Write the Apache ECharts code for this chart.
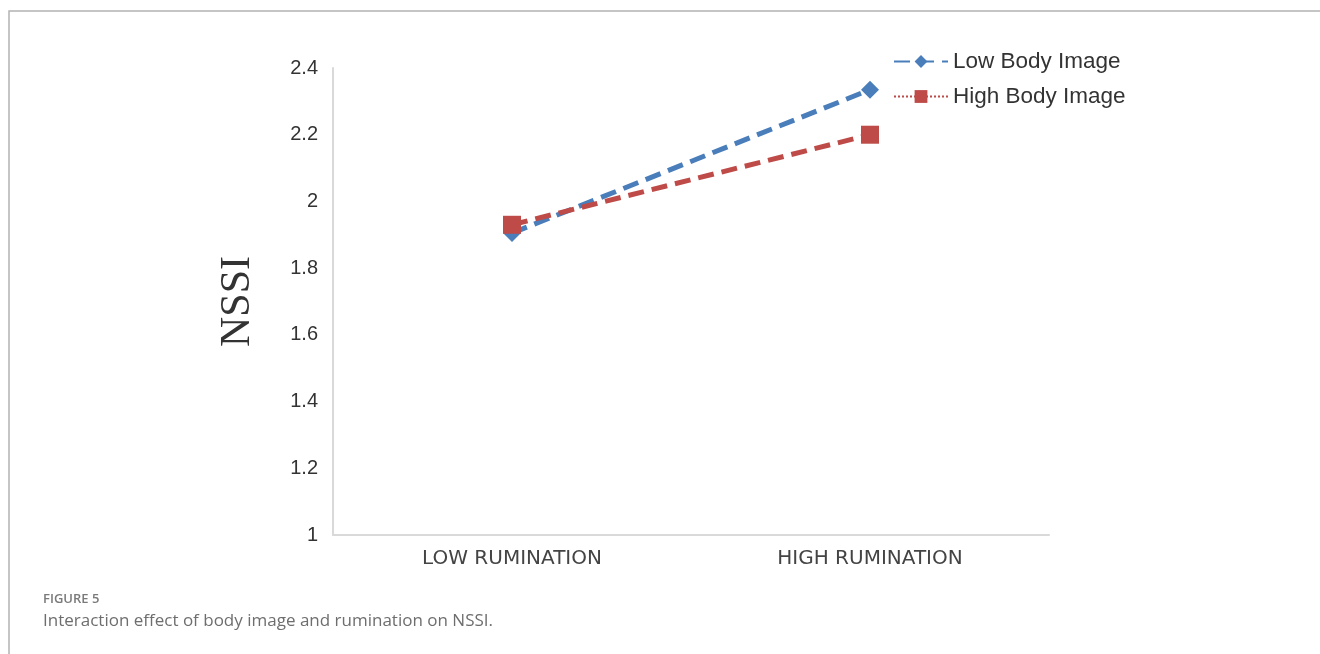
<!DOCTYPE html>
<html>
<head>
<meta charset="utf-8">
<script src="https://cdn.jsdelivr.net/npm/echarts@6/dist/echarts.min.js"></script>
<style>
  html, body { margin: 0; padding: 0; background: #fff; }
  #main { width: 1320px; height: 654px; }
</style>
</head>
<body>
<div id="main"></div>
<script>
// 数据
var categories = ['LOW RUMINATION', 'HIGH RUMINATION'];
var lowBodyImage = [1.905, 2.335];
var highBodyImage = [1.93, 2.2];
var yTicks = [1, 1.2, 1.4, 1.6, 1.8, 2, 2.2, 2.4];

var myChart = echarts.init(document.getElementById('main'));

var option = {
    animation: false,
    grid: {
        left: 333,
        right: 271,
        top: 68,
        bottom: 119
    },
    legend: {
        orient: 'vertical',
        left: 888,
        top: 45,
        itemWidth: 54,
        itemHeight: 16,
        itemGap: 12,
        textStyle: {
            fontFamily: 'Liberation Sans',
            fontSize: 22.5,
            color: '#333'
        },
        data: [
            { name: 'Low Body Image' },
            { name: 'High Body Image', lineStyle: { type: 'dotted', width: 2 } }
        ]
    },
    xAxis: {
        type: 'category',
        data: categories,
        axisLine: { lineStyle: { color: '#d9d9d9', width: 2 } },
        axisTick: { show: false },
        axisLabel: {
            margin: 14,
            fontFamily: 'DejaVu Sans',
            fontSize: 20,
            color: '#444'
        }
    },
    yAxis: {
        type: 'value',
        min: 1,
        max: 2.4,
        interval: 0.2,
        name: 'NSSI',
        nameLocation: 'middle',
        nameRotate: 90,
        nameGap: 74,
        nameTextStyle: {
            fontFamily: 'Liberation Serif',
            fontSize: 42,
            color: '#333'
        },
        splitLine: { show: false },
        axisTick: { show: false },
        axisLine: { show: true, lineStyle: { color: '#d9d9d9', width: 2 } },
        axisLabel: {
            margin: 15,
            fontFamily: 'Liberation Sans',
            fontSize: 20,
            color: '#333',
            formatter: function (v) {
                var s = Math.round(v * 10) / 10;
                return yTicks.indexOf(s) >= 0 ? String(s) : '';
            }
        }
    },
    series: [{
        name: 'Low Body Image',
        type: 'line',
        data: lowBodyImage,
        symbol: 'diamond',
        symbolSize: 18,
        itemStyle: { color: '#4a7ebb' },
        lineStyle: { color: '#4a7ebb', width: 5, type: [16, 8] },
        z: 2
    }, {
        name: 'High Body Image',
        type: 'line',
        data: highBodyImage,
        symbol: 'rect',
        symbolSize: 18,
        itemStyle: { color: '#be4b48' },
        lineStyle: { color: '#be4b48', width: 5, type: [16, 8] },
        z: 3
    }],
    graphic: [{
        type: 'polyline',
        shape: { points: [[9, 654], [9, 11], [1320, 11]] },
        style: { stroke: '#b3b3b3', lineWidth: 1.5, fill: null }
    }, {
        type: 'text',
        left: 43,
        top: 593,
        style: {
            text: 'FIGURE 5',
            font: '600 13px "Open Sans"',
            fill: '#7a7a7a'
        }
    }, {
        type: 'text',
        left: 43,
        top: 613,
        style: {
            text: 'Interaction effect of body image and rumination on NSSI.',
            font: '17px "Open Sans"',
            fill: '#6e6e6e'
        }
    }]
};

myChart.setOption(option);
</script>
</body>
</html>
